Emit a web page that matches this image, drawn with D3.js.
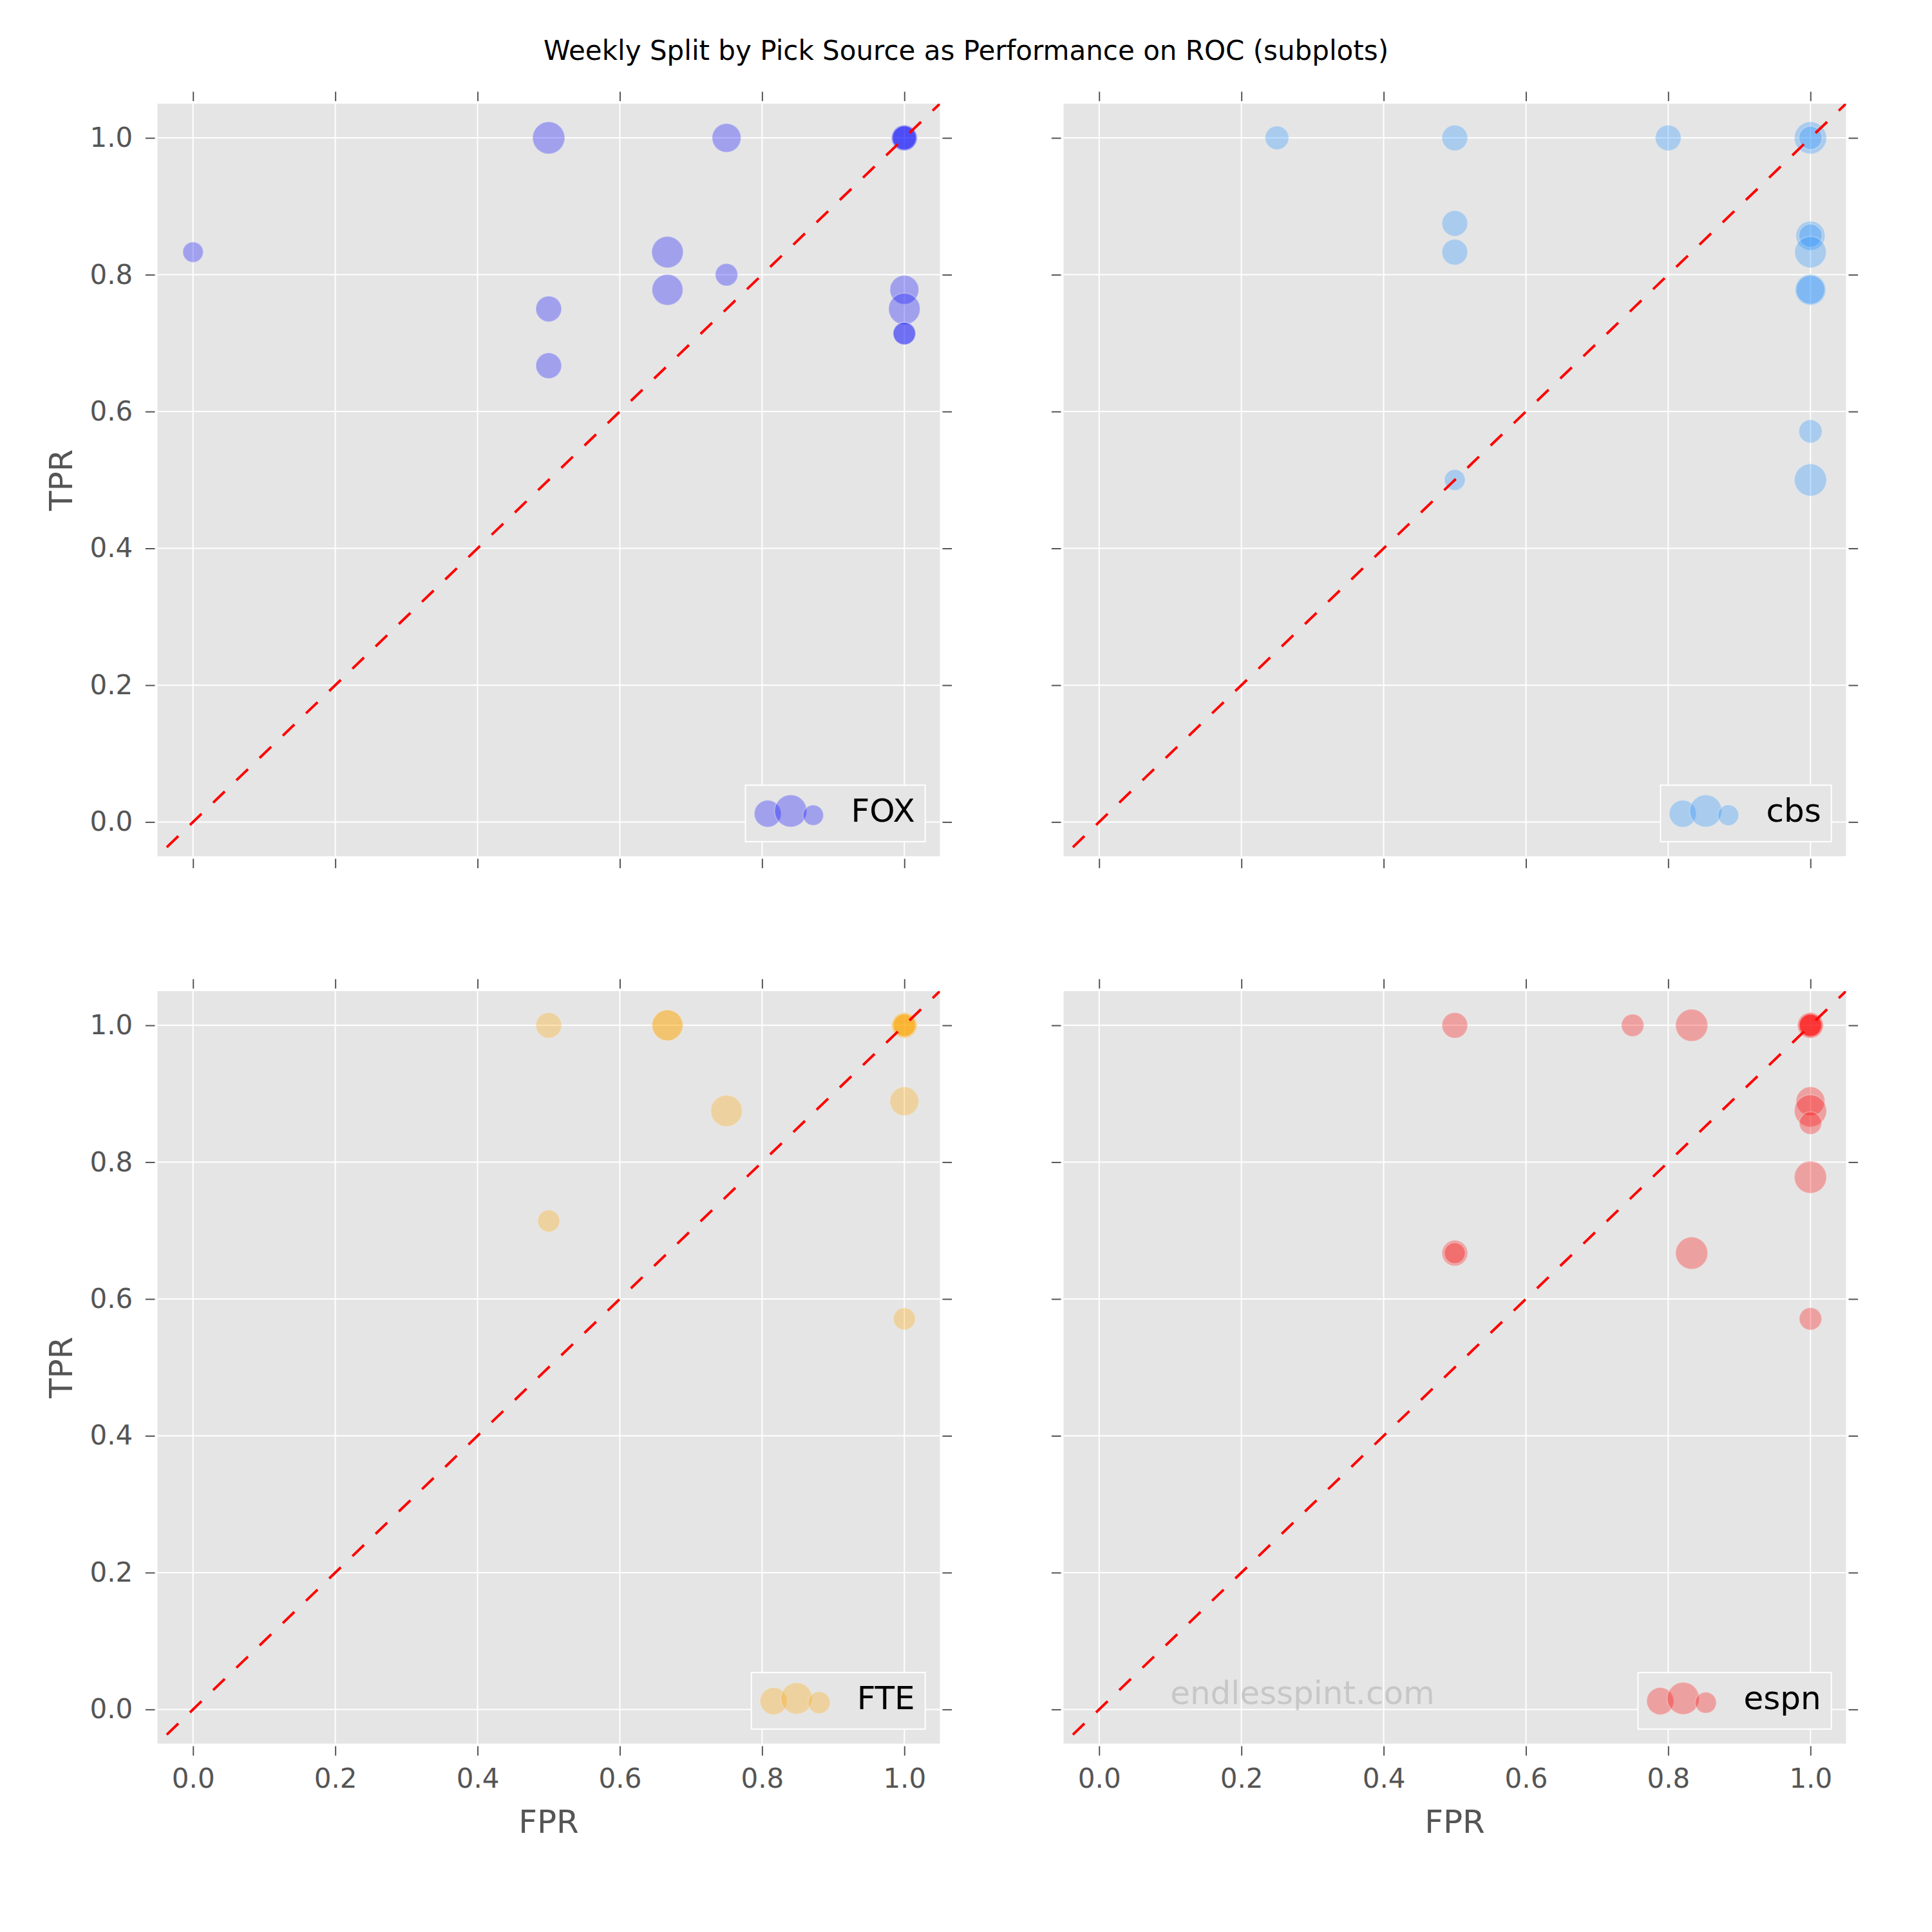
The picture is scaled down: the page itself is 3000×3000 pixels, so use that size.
<!DOCTYPE html>
<html><head><meta charset="utf-8">
<script src="https://cdn.jsdelivr.net/npm/d3@7"></script>
<style>body{margin:0;background:#fff} text{font-family:"DejaVu Sans",sans-serif}</style>
</head><body><script>
// ---------- data ----------
const chartTitle = "Weekly Split by Pick Source as Performance on ROC (subplots)";
const sources = ["FOX", "cbs", "FTE", "espn"];
const colors = ["#0000FF", "#1E90FF", "#FFA500", "#FF0000"];
const tickValues = [0, 0.2, 0.4, 0.6, 0.8, 1.0];
const tickLabels = ["0.0", "0.2", "0.4", "0.6", "0.8", "1.0"];
const xLabel = "FPR";
const yLabel = "TPR";
const watermark = "endlesspint.com";

// marker sizes are matplotlib-style areas (pt^2)
const foxFPR  = [0, 0.5, 0.75, 1, 1, 1, 0.667, 0.667, 0.75, 0.5, 0.5, 1, 1, 1, 1];
const foxTPR  = [0.833, 1, 1, 1, 1, 1, 0.833, 0.778, 0.8, 0.75, 0.667, 0.778, 0.75, 0.714, 0.714];
const foxSize = [58, 144, 116, 92, 92, 80, 138, 133, 70, 92, 92, 116, 138, 70, 70];

const cbsFPR  = [0.25, 0.5, 0.8, 1, 1, 0.5, 0.5, 1, 1, 1, 1, 1, 1, 1, 0.5];
const cbsTPR  = [1, 1, 1, 1, 1, 0.875, 0.833, 0.857, 0.857, 0.833, 0.778, 0.778, 0.571, 0.5, 0.5];
const cbsSize = [78, 92, 92, 144, 75, 92, 92, 118, 75, 138, 133, 116, 75, 144, 60];

const fteFPR  = [0.5, 0.667, 0.667, 1, 1, 1, 1, 0.75, 1, 0.5, 1];
const fteTPR  = [1, 1, 1, 1, 1, 1, 1, 0.875, 0.889, 0.714, 0.571];
const fteSize = [92, 133, 133, 92, 92, 80, 70, 138, 116, 68, 68];

const espnFPR  = [0.5, 0.75, 0.833, 1, 1, 1, 1, 1, 1, 1, 1, 0.5, 0.5, 0.833, 1];
const espnTPR  = [1, 1, 1, 1, 1, 1, 1, 0.889, 0.875, 0.857, 0.778, 0.667, 0.667, 0.667, 0.571];
const espnSize = [92, 70, 144, 92, 92, 80, 70, 116, 144, 70, 144, 92, 62, 144, 70];

const seriesFPR  = [foxFPR, cbsFPR, fteFPR, espnFPR];
const seriesTPR  = [foxTPR, cbsTPR, fteTPR, espnTPR];
const seriesSize = [foxSize, cbsSize, fteSize, espnSize];

// ---------- layout ----------
const W = 3000, H = 3000;
const PW = 1215, PH = 1168.5;
const panels = [
  {i: 0, left: 244.5, top: 161,    showX: false, showY: true},
  {i: 1, left: 1651.5, top: 161,   showX: false, showY: false},
  {i: 2, left: 244.5, top: 1539,   showX: true,  showY: true},
  {i: 3, left: 1651.5, top: 1539,  showX: true,  showY: false}
];
const BG = "#E5E5E5", TICKC = "#555555";

const svg = d3.select("body").append("svg")
  .attr("width", W).attr("height", H)
  .attr("xmlns", "http://www.w3.org/2000/svg");
svg.append("rect").attr("width", W).attr("height", H).attr("fill", "#fff");

svg.append("text")
  .attr("x", 1500).attr("y", 93)
  .attr("text-anchor", "middle")
  .attr("font-size", 42).attr("fill", "#000")
  .text(chartTitle);

// marker area (pt^2) -> radius in px at 300 dpi
const rScale = d3.scaleSqrt().domain([0, 1]).range([0, 300 / 72 / 2]);

panels.forEach((p, pi) => {
  const L = p.left, T = p.top, R = L + PW, B = T + PH;
  const x = d3.scaleLinear().domain([-0.05, 1.05]).range([L, R]);
  const y = d3.scaleLinear().domain([-0.05, 1.05]).range([B, T]);
  const col = colors[p.i];
  const g = svg.append("g");
  const clipId = "clip" + pi;
  g.append("clipPath").attr("id", clipId).append("rect")
    .attr("x", L).attr("y", T).attr("width", PW).attr("height", PH);

  g.append("rect").attr("x", L).attr("y", T).attr("width", PW).attr("height", PH).attr("fill", BG);

  // grid
  g.append("g").selectAll("line.gx").data(tickValues).join("line")
    .attr("x1", d => x(d)).attr("x2", d => x(d)).attr("y1", T).attr("y2", B)
    .attr("stroke", "#fff").attr("stroke-width", 2);
  g.append("g").selectAll("line.gy").data(tickValues).join("line")
    .attr("y1", d => y(d)).attr("y2", d => y(d)).attr("x1", L).attr("x2", R)
    .attr("stroke", "#fff").attr("stroke-width", 2);

  // points
  const fpr = seriesFPR[p.i], tpr = seriesTPR[p.i], sz = seriesSize[p.i];
  const pts = fpr.map((f, k) => ({f, t: tpr[k], s: sz[k]}));
  g.append("g").attr("clip-path", `url(#${clipId})`)
    .selectAll("circle").data(pts).join("circle")
    .attr("cx", d => x(d.f)).attr("cy", d => y(d.t)).attr("r", d => rScale(d.s))
    .attr("fill", col).attr("fill-opacity", 0.3)
    .attr("stroke", "#EEEEEE").attr("stroke-opacity", 0.3).attr("stroke-width", 2);

  // diagonal
  const line = d3.line().x(d => x(d[0])).y(d => y(d[1]));
  g.append("path").attr("clip-path", `url(#${clipId})`)
    .attr("d", line([[-0.05, -0.05], [1.05, 1.05]]))
    .attr("fill", "none").attr("stroke", "#FF0000").attr("stroke-width", 4)
    .attr("stroke-dasharray", "25 25").attr("stroke-dashoffset", 30);

  // axes
  const fmt = show => (d => show ? tickLabels[tickValues.indexOf(d)] : "");
  const styleAxis = sel => {
    sel.select(".domain").remove();
    sel.selectAll(".tick line").attr("stroke", TICKC).attr("stroke-width", 2);
    sel.selectAll(".tick text").attr("fill", TICKC).attr("font-size", 42)
      .attr("font-family", "DejaVu Sans");
    sel.attr("font-size", 42).attr("font-family", "DejaVu Sans");
  };
  g.append("g").attr("transform", `translate(0,${B + 4})`)
    .call(d3.axisBottom(x).tickValues(tickValues).tickSize(14.6).tickPadding(20.3).tickFormat(fmt(p.showX)))
    .call(styleAxis);
  g.append("g").attr("transform", `translate(0,${T - 4})`)
    .call(d3.axisTop(x).tickValues(tickValues).tickSize(14.6).tickFormat(() => ""))
    .call(styleAxis);
  g.append("g").attr("transform", `translate(${L - 4},0)`)
    .call(d3.axisLeft(y).tickValues(tickValues).tickSize(14.6).tickPadding(19.7).tickFormat(fmt(p.showY)))
    .call(styleAxis);
  g.append("g").attr("transform", `translate(${R + 4},0)`)
    .call(d3.axisRight(y).tickValues(tickValues).tickSize(14.6).tickFormat(() => ""))
    .call(styleAxis);

  if (p.showX) {
    g.append("text").attr("x", (L + R) / 2).attr("y", B + 138)
      .attr("text-anchor", "middle").attr("font-size", 50).attr("fill", TICKC).text(xLabel);
  }
  if (p.showY) {
    g.append("text").attr("transform", `translate(${L - 132.6},${(T + B) / 2}) rotate(-90)`)
      .attr("text-anchor", "middle").attr("font-size", 50).attr("fill", TICKC).text(yLabel);
  }

  if (p.i === 3) {
    g.append("text").attr("x", x(0.1)).attr("y", y(0.008))
      .attr("font-size", 50).attr("fill", "#808080").attr("fill-opacity", 0.3).text(watermark);
  }

  // legend (lower right)
  const lg = g.append("g");
  const box = lg.append("rect");
  const lt = lg.append("text").attr("font-size", 50).attr("fill", "#000").text(sources[p.i]);
  const tw = lt.node().getComputedTextLength();
  const bw = tw + 180, bh = 87.7;
  const bx = R - 22.8 - bw, by = B - 22.6 - bh;
  box.attr("x", bx).attr("y", by).attr("width", bw).attr("height", bh)
    .attr("fill", BG).attr("stroke", "#fff").attr("stroke-width", 2);
  lt.attr("x", bx + 164).attr("y", by + 57);
  const smax = d3.max(sz), smin = d3.min(sz);
  const legSizes = [0.5 * (smax + smin), smax, smin];
  const legX = [34.6, 70.3, 105.3], legY = [44.3, 40, 46.7];
  lg.selectAll("circle").data(legSizes).join("circle")
    .attr("cx", (d, k) => bx + legX[k]).attr("cy", (d, k) => by + legY[k])
    .attr("r", d => rScale(d))
    .attr("fill", col).attr("fill-opacity", 0.3)
    .attr("stroke", "#EEEEEE").attr("stroke-opacity", 0.3).attr("stroke-width", 2);
});
</script></body></html>
